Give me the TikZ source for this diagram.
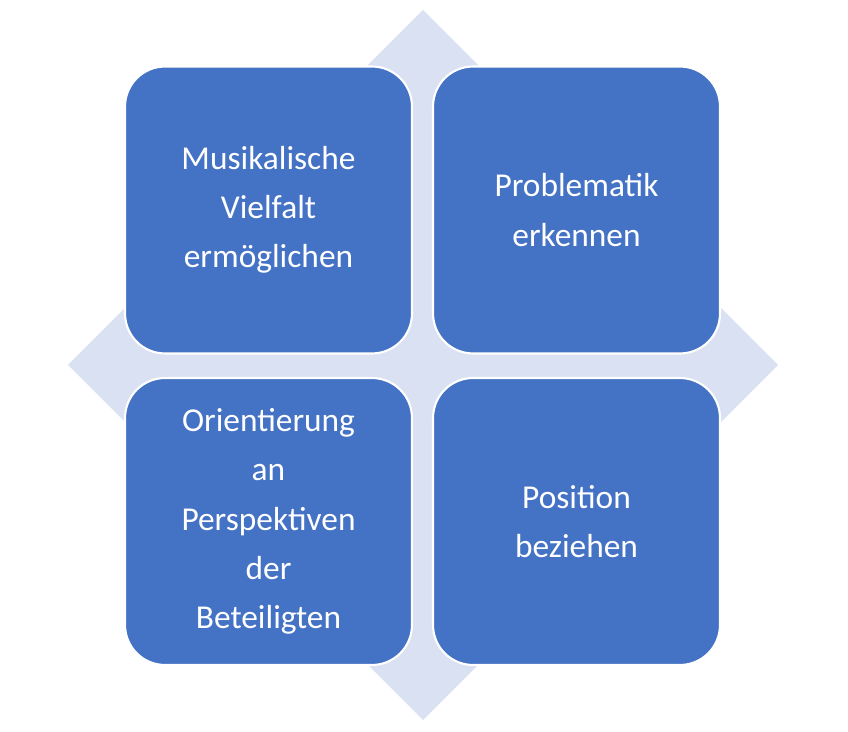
\documentclass[tikz,border=0pt]{standalone}
\usepackage{fontspec}
\setmainfont{Carlito}
\definecolor{boxblue}{HTML}{4472C4}
\definecolor{diamondfill}{HTML}{D9E1F2}
\tikzset{
  tile/.style={draw=white, line width=1.2pt, fill=boxblue, rounded corners=0.8cm,
    minimum width=5.74cm, minimum height=5.74cm, align=center, text=white,
    font=\fontsize{19}{28}\selectfont}
}
\begin{document}
\begin{tikzpicture}[x=0.02cm,y=-0.02cm]
  \useasboundingbox (0,0) rectangle (848,732);

  % Background diamond
  \fill[diamondfill] (423,10) -- (778,365) -- (423,720) -- (68,365) -- cycle;

  % Tiles
  \node[tile] (tl) at (268.5,210) {Musikalische\\Vielfalt\\ermöglichen};
  \node[tile] (tr) at (576.5,210) {Problematik\\erkennen};
  \node[tile] (bl) at (268.5,521.5) {Orientierung\\an\\Perspektiven\\der\\Beteiligten};
  \node[tile] (br) at (576.5,521.5) {Position\\beziehen};

\end{tikzpicture}
\end{document}
